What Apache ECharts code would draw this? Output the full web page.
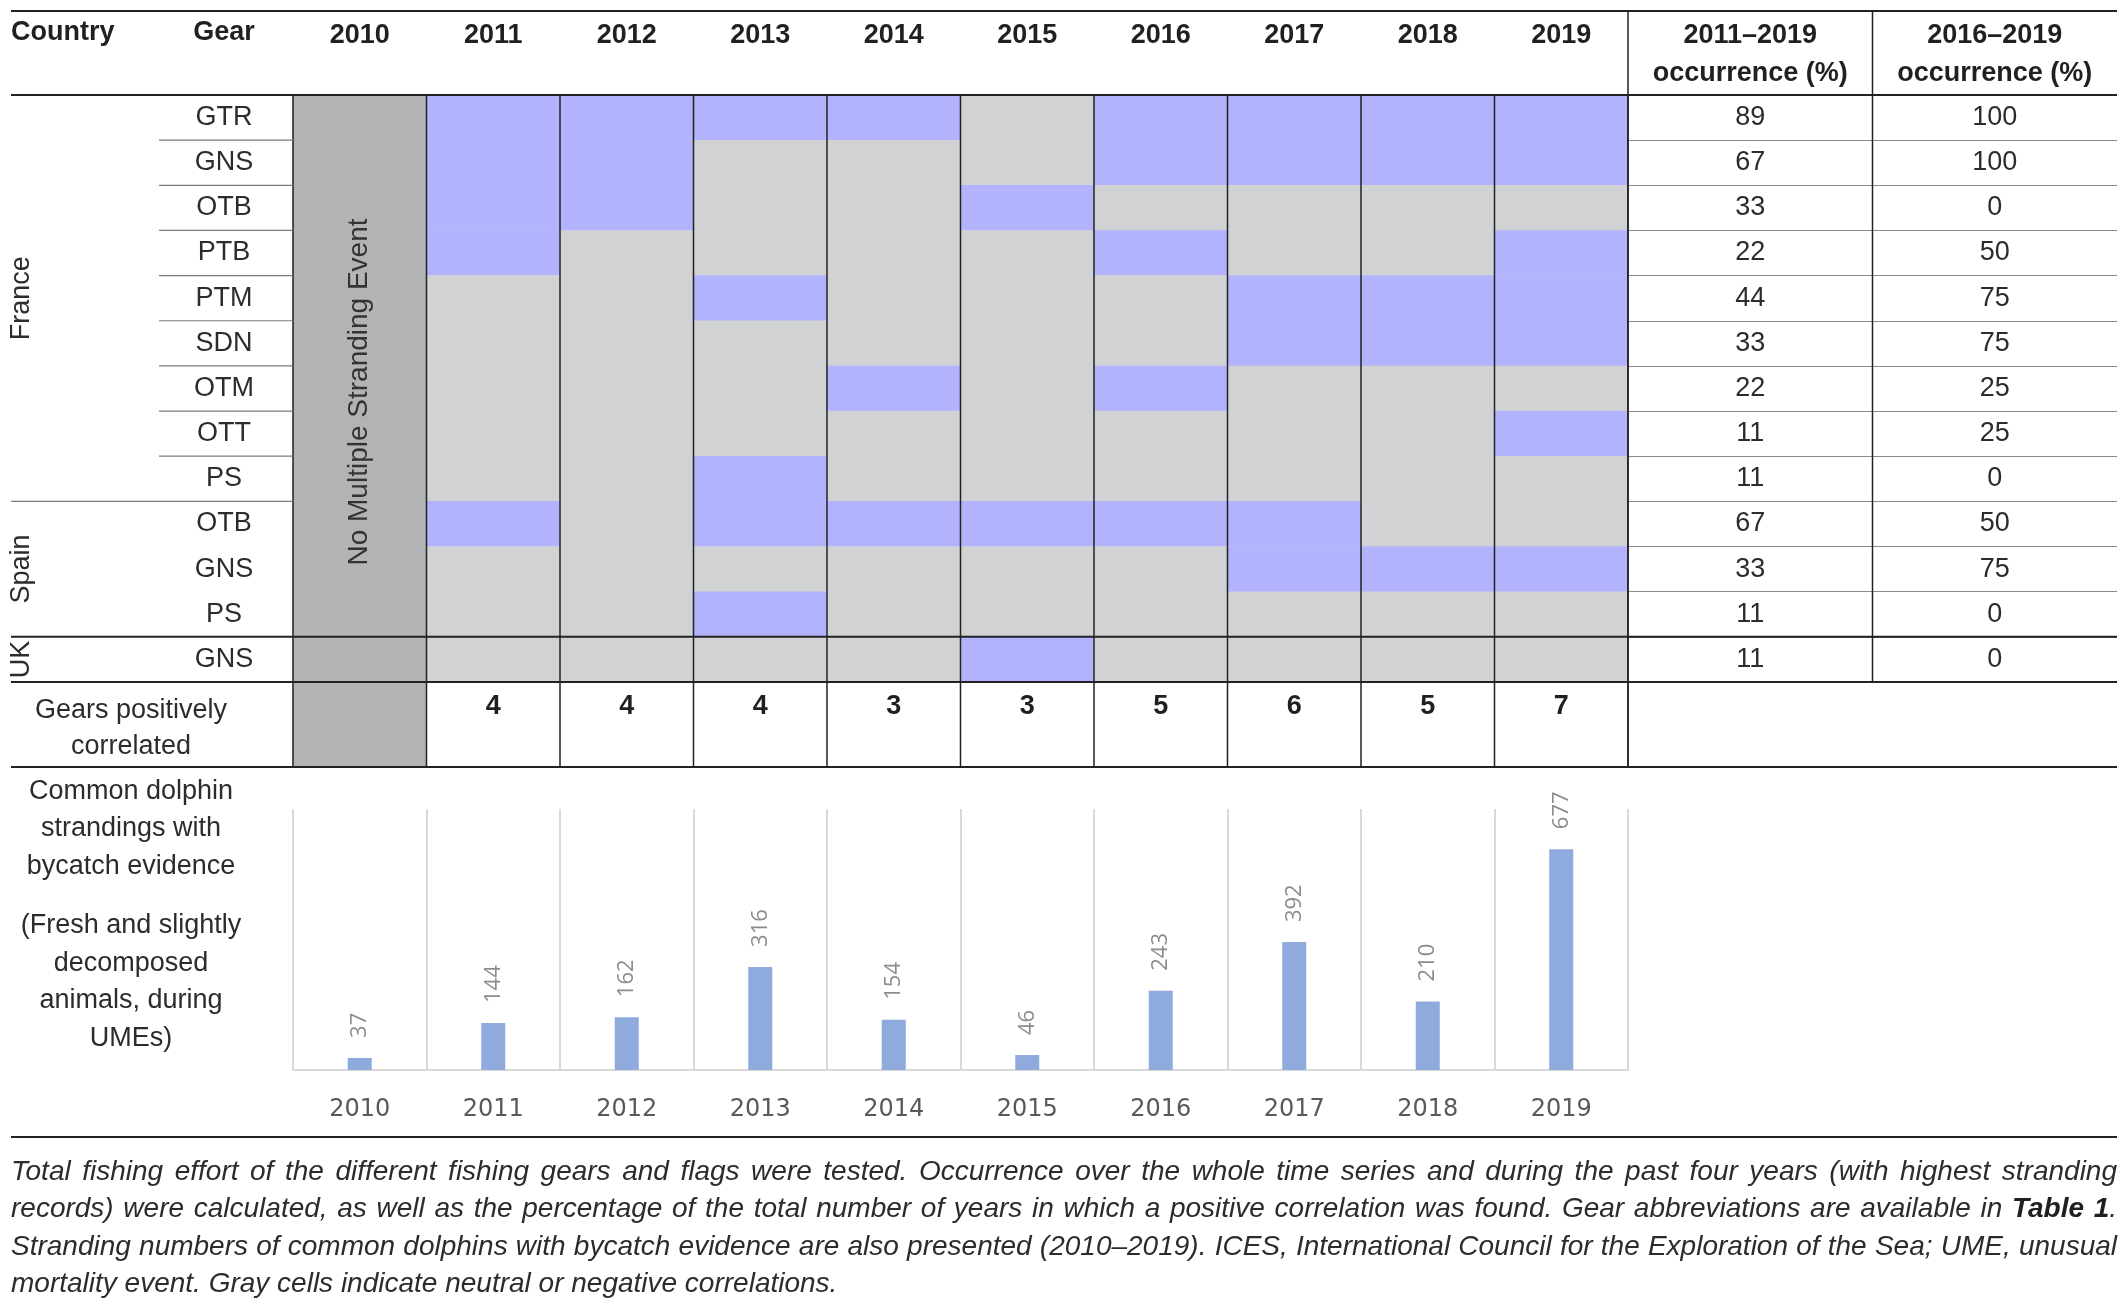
<!DOCTYPE html>
<html>
<head>
<meta charset="utf-8">
<title>Gears positively correlated with common dolphin strandings</title>
<style>
html, body { margin: 0; padding: 0; background: #fff; }
#main { width: 2128px; height: 1309px; }
</style>
</head>
<body>
<div id="main"></div>
<script src="https://cdn.jsdelivr.net/npm/echarts@6/dist/echarts.min.js"></script>
<script>
// ---- data ----
var years = ['2010', '2011', '2012', '2013', '2014', '2015', '2016', '2017', '2018', '2019'];
var countries = ['France', 'Spain', 'UK'];
var rows = ['France|GTR', 'France|GNS', 'France|OTB', 'France|PTB', 'France|PTM', 'France|SDN',
            'France|OTM', 'France|OTT', 'France|PS', 'Spain|OTB', 'Spain|GNS', 'Spain|PS', 'UK|GNS'];
// 1 = positive correlation, 0 = neutral/negative ; columns 2011..2019
var positive = [
  [1, 1, 1, 1, 0, 1, 1, 1, 1],
  [1, 1, 0, 0, 0, 1, 1, 1, 1],
  [1, 1, 0, 0, 1, 0, 0, 0, 0],
  [1, 0, 0, 0, 0, 1, 0, 0, 1],
  [0, 0, 1, 0, 0, 0, 1, 1, 1],
  [0, 0, 0, 0, 0, 0, 1, 1, 1],
  [0, 0, 0, 1, 0, 1, 0, 0, 0],
  [0, 0, 0, 0, 0, 0, 0, 0, 1],
  [0, 0, 1, 0, 0, 0, 0, 0, 0],
  [1, 0, 1, 1, 1, 1, 1, 0, 0],
  [0, 0, 0, 0, 0, 0, 1, 1, 1],
  [0, 0, 1, 0, 0, 0, 0, 0, 0],
  [0, 0, 0, 0, 1, 0, 0, 0, 0]
];
var occurrenceCols = ['2011–2019\noccurrence (%)', '2016–2019\noccurrence (%)'];
var occ2011 = [89, 67, 33, 22, 44, 33, 22, 11, 11, 67, 33, 11, 11];
var occ2016 = [100, 100, 0, 50, 75, 75, 25, 25, 0, 50, 75, 0, 0];
var gearsCorrelated = [4, 4, 4, 3, 3, 5, 6, 5, 7];   // 2011..2019
var strandings = [37, 144, 162, 316, 154, 46, 243, 392, 210, 677];

// ---- layout ----
var X0 = 11, X1 = 2117;
var L = 293, T = 95;
var tableW = 1335, rowH = 45.15;
var nRows = rows.length;
var bodyB = T + rowH * nRows;       // bottom of UK row
var gearsB = 767;
var colW = tableW / years.length;
var occL = L + tableW, occW = X1 - occL;

var FONT = 'Liberation Sans';
var INK = '#231f20';
var BODY = '#2e2b2c';
var BLUE = '#b3b3fd', GRAY = '#d1d2d4', DARK = '#b2b3b5';

var cells = [];
rows.forEach(function (r, ri) {
  cells.push([0, ri, 2]);
  positive[ri].forEach(function (v, ci) { cells.push([ci + 1, ri, v]); });
});

var gearsCells = [{ value: [0, 0, 0], itemStyle: { color: DARK }, label: { show: false } }];
gearsCorrelated.forEach(function (n, i) {
  gearsCells.push({ value: [i + 1, 0, n], itemStyle: { color: '#fff' } });
});

var occCells = [];
rows.forEach(function (r, ri) {
  occCells.push([0, ri, occ2011[ri]]);
  occCells.push([1, ri, occ2016[ri]]);
});

// ---- table rules ----
function hline(y, xa, xb, w, c) {
  return { type: 'line', z: 50, shape: { x1: xa, y1: y, x2: xb, y2: y },
           style: { stroke: c || '#222', lineWidth: w || 2 } };
}
function vline(x, ya, yb, w, c) {
  return { type: 'line', z: 50, shape: { x1: x, y1: ya, x2: x, y2: yb },
           style: { stroke: c || '#222', lineWidth: w || 1.5 } };
}
function txt(x, y, s, o) {
  o = o || {};
  return { type: 'text', z: 60, x: x, y: y, rotation: o.rot || 0,
    style: { text: s, x: 0, y: 0, fill: o.color || BODY, fontFamily: FONT,
      fontSize: o.size || 27, fontWeight: o.weight || 'normal', fontStyle: o.style || 'normal',
      textAlign: o.align || 'center', textVerticalAlign: 'middle', lineHeight: o.lh, rich: o.rich } };
}

var graphics = [];
graphics.push(hline(11, X0, X1));
graphics.push(hline(T, X0, X1));
for (var i = 0; i <= years.length; i++) {
  graphics.push(vline(L + colW * i, T, gearsB));
}
graphics.push(vline(occL, 11, gearsB));
graphics.push(vline(occL + occW / 2, 11, bodyB));
for (var r = 1; r <= 8; r++) {
  graphics.push(hline(T + rowH * r, 159, L, 1.2, '#7a7a7a'));
}
graphics.push(hline(T + rowH * 9, X0, L, 1.2, '#7a7a7a'));
graphics.push(hline(T + rowH * 12, X0, X1));
graphics.push(hline(bodyB, X0, X1));
graphics.push(hline(gearsB, X0, X1));
graphics.push(hline(1137, X0, X1));

// header texts
graphics.push(txt(X0, 33, 'Country', { weight: 'bold', align: 'left', color: INK }));
graphics.push(txt(224, 33, 'Gear', { weight: 'bold', color: INK }));
// country labels
graphics.push(txt(22, T + rowH * 4.5, countries[0], { rot: Math.PI / 2 }));
graphics.push(txt(22, T + rowH * 10.5, countries[1], { rot: Math.PI / 2 }));
graphics.push(txt(22, T + rowH * 12.5, countries[2], { rot: Math.PI / 2 }));
graphics.push(txt(L + colW / 2, 392, 'No Multiple Stranding Event', { rot: Math.PI / 2, size: 28, color: '#333' }));
graphics.push(txt(131, 729, 'Gears positively\ncorrelated', { lh: 36 }));
graphics.push(txt(131, 829, 'Common dolphin\nstrandings with\nbycatch evidence', { lh: 37.5 }));
graphics.push(txt(131, 982, '(Fresh and slightly\ndecomposed\nanimals, during\nUMEs)', { lh: 37.5 }));

// caption, justified word by word like the printed legend
var capSize = 28;
var capLines = [
  'Total fishing effort of the different fishing gears and flags were tested. Occurrence over the whole time series and during the past four years (with highest stranding',
  'records) were calculated, as well as the percentage of the total number of years in which a positive correlation was found. Gear abbreviations are available in {b|Table} {b|1}.',
  'Stranding numbers of common dolphins with bycatch evidence are also presented (2010–2019). ICES, International Council for the Exploration of the Sea; UME, unusual',
  'mortality event. Gray cells indicate neutral or negative correlations.'
];
var capY = [1172, 1209.5, 1247, 1284];
var ctx = document.createElement('canvas').getContext('2d');
var fNorm = 'italic ' + capSize + 'px "' + FONT + '"';
var fBold = 'italic bold ' + capSize + 'px "' + FONT + '"';
function wordWidth(w) {
  var m = w.match(/^\{b\|(.*?)\}(.*)$/);
  if (m) {
    ctx.font = fBold; var a = ctx.measureText(m[1]).width;
    ctx.font = fNorm; return a + ctx.measureText(m[2]).width;
  }
  ctx.font = fNorm; return ctx.measureText(w).width;
}
ctx.font = fNorm;
var spaceW = ctx.measureText(' ').width;
var capRich = { b: { fontFamily: FONT, fontSize: capSize, fontStyle: 'italic', fontWeight: 'bold', fill: INK } };
capLines.forEach(function (s, k) {
  var words = s.split(' ');
  var widths = words.map(wordWidth);
  var sum = widths.reduce(function (a, b) { return a + b; }, 0);
  var justify = k < capLines.length - 1;
  var gap = justify ? (X1 - X0 - sum) / (words.length - 1) : spaceW;
  var x = X0;
  words.forEach(function (w, j) {
    graphics.push(txt(x, capY[k], w, { align: 'left', size: capSize, style: 'italic', rich: capRich }));
    x += widths[j] + gap;
  });
});

var option = {
  animation: false,
  textStyle: { fontFamily: FONT },
  grid: [
    { left: L, top: T, width: tableW, height: bodyB - T },
    { left: L, top: bodyB, width: tableW, height: gearsB - bodyB },
    { left: occL, top: T, width: occW, height: bodyB - T },
    { left: L, top: 809, width: tableW, height: 261 }
  ],
  xAxis: [
    { gridIndex: 0, type: 'category', data: years, position: 'top',
      axisLine: { show: false }, axisTick: { show: false },
      axisLabel: { interval: 0, margin: 46, fontSize: 27, fontWeight: 'bold', color: INK, fontFamily: FONT } },
    { gridIndex: 1, type: 'category', data: years, show: false },
    { gridIndex: 2, type: 'category', data: occurrenceCols, position: 'top',
      axisLine: { show: false }, axisTick: { show: false },
      axisLabel: { interval: 0, margin: 2, fontSize: 27, fontWeight: 'bold', color: INK, lineHeight: 38, fontFamily: FONT } },
    { gridIndex: 3, type: 'category', data: years,
      axisLine: { lineStyle: { color: '#d9d9d9', width: 2 } }, axisTick: { show: false },
      splitLine: { show: true, interval: 0, lineStyle: { color: '#d9d9d9', width: 2 } },
      axisLabel: { interval: 0, margin: 28, fontSize: 24, color: '#595959', fontFamily: 'DejaVu Sans' } }
  ],
  yAxis: [
    { gridIndex: 0, type: 'category', data: rows, inverse: true,
      axisLine: { show: false }, axisTick: { show: false },
      axisLabel: { interval: 0, margin: 69, align: 'center', fontSize: 27, color: BODY, fontFamily: FONT,
        formatter: function (v) { return v.split('|')[1]; } } },
    { gridIndex: 1, type: 'category', data: ['n'], show: false },
    { gridIndex: 2, type: 'category', data: rows, inverse: true,
      axisLine: { show: false }, axisTick: { show: false }, axisLabel: { show: false },
      splitLine: { show: true, interval: 0, lineStyle: { color: '#8a8a8a', width: 1.2 } } },
    { gridIndex: 3, type: 'value', min: 0, max: 800, show: false }
  ],
  visualMap: {
    type: 'piecewise', show: false, seriesIndex: 0, dimension: 2,
    pieces: [{ value: 0, color: GRAY }, { value: 1, color: BLUE }, { value: 2, color: DARK }]
  },
  series: [
    { type: 'heatmap', xAxisIndex: 0, yAxisIndex: 0, data: cells,
      itemStyle: { borderWidth: 0 }, emphasis: { disabled: true } },
    { type: 'heatmap', xAxisIndex: 1, yAxisIndex: 1, data: gearsCells, emphasis: { disabled: true },
      label: { show: true, offset: [0, -18], fontSize: 27, fontWeight: 'bold', color: INK, fontFamily: FONT,
        formatter: function (p) { return p.value[2]; } } },
    { type: 'heatmap', xAxisIndex: 2, yAxisIndex: 2, data: occCells, emphasis: { disabled: true },
      itemStyle: { color: 'rgba(0,0,0,0)' },
      label: { show: true, fontSize: 27, color: BODY, fontFamily: FONT,
        formatter: function (p) { return p.value[2]; } } },
    { type: 'bar', xAxisIndex: 3, yAxisIndex: 3, data: strandings, barWidth: 24,
      itemStyle: { color: '#8faadc' },
      label: { show: true, position: 'top', rotate: 90, align: 'left', verticalAlign: 'middle',
        distance: 20, fontSize: 22, color: '#8c8c8c', fontFamily: 'Open Sans' } }
  ],
  graphic: graphics
};

var myChart = echarts.init(document.getElementById('main'));
myChart.setOption(option);
</script>
</body>
</html>
